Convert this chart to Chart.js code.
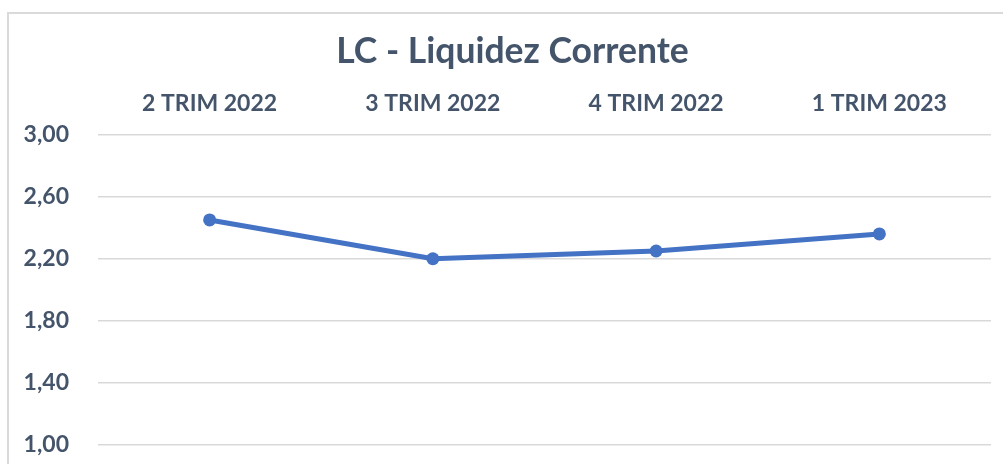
<!DOCTYPE html>
<html>
<head>
<meta charset="utf-8">
<script src="https://cdn.jsdelivr.net/npm/chart.js@4"></script>
<style>
  html, body { margin: 0; padding: 0; background: #fff; overflow: hidden; }
  #wrap { position: relative; width: 1003px; height: 464px; }
  #frame {
    position: absolute; left: 7px; top: 12px; width: 1100px; height: 600px;
    border: 2px solid #dadada; box-sizing: border-box;
  }
  canvas { position: absolute; left: 0; top: 0; }
</style>
</head>
<body>
<div id="wrap">
  <div id="frame"></div>
  <canvas id="lcChart" width="1003" height="464"></canvas>
</div>
<script>
// Chart data
const chartTitle = 'LC - Liquidez Corrente';
const periods = ['2 TRIM 2022', '3 TRIM 2022', '4 TRIM 2022', '1 TRIM 2023'];
const lcValues = [2.45, 2.20, 2.25, 2.36];
const yTicks = [1.00, 1.40, 1.80, 2.20, 2.60, 3.00];

const textColor = '#44546a';
const lineBlue = '#4472c4';

// "2,60" style labels
function formatComma(v) {
  return Number(v).toFixed(2).replace('.', ',');
}

// title sits centred on the framed box, not on the whole canvas
const shiftTitle = {
  id: 'shiftTitle',
  afterLayout(chart) {
    if (chart.titleBlock) chart.titleBlock.left = 34;
  }
};

const ctx = document.getElementById('lcChart').getContext('2d');

const lcChart = new Chart(ctx, {
  type: 'line',
  data: {
    labels: periods,
    datasets: [{
      label: 'LC',
      data: lcValues,
      borderColor: lineBlue,
      backgroundColor: lineBlue,
      borderWidth: 5,
      pointRadius: 6.5,
      pointHoverRadius: 6.5,
      pointBackgroundColor: lineBlue,
      pointBorderWidth: 0,
      tension: 0,
      clip: false
    }]
  },
  options: {
    responsive: false,
    animation: false,
    layout: {
      padding: { left: 0, right: 12, top: 0, bottom: 19 }
    },
    plugins: {
      legend: { display: false },
      tooltip: { enabled: false },
      title: {
        display: true,
        text: chartTitle,
        color: textColor,
        font: { family: 'Lato', size: 35.5, weight: 'bold', lineHeight: 1.2 },
        padding: { top: 30, bottom: 0 }
      }
    },
    scales: {
      x: {
        position: 'top',
        offset: true,
        grid: { display: false, drawTicks: false },
        border: { display: false },
        ticks: {
          color: textColor,
          padding: 17,
          maxRotation: 0,
          font: { family: 'Lato', size: 23, weight: 'bold' }
        },
        afterFit: (scale) => { scale.height = 62; }
      },
      y: {
        min: 1,
        max: 3,
        grid: { color: '#d9d9d9', lineWidth: 1.6, drawTicks: false },
        border: { display: false },
        afterBuildTicks: (scale) => {
          scale.ticks = yTicks.map(v => ({ value: v }));
        },
        ticks: {
          color: textColor,
          padding: 29,
          font: { family: 'Lato', size: 23, weight: 'bold' },
          callback: (v) => formatComma(v)
        },
        afterFit: (scale) => {
          scale.width = 98;
          scale.paddingTop = 0;
          scale.paddingBottom = 0;
        }
      }
    }
  },
  plugins: [shiftTitle]
});
</script>
</body>
</html>
